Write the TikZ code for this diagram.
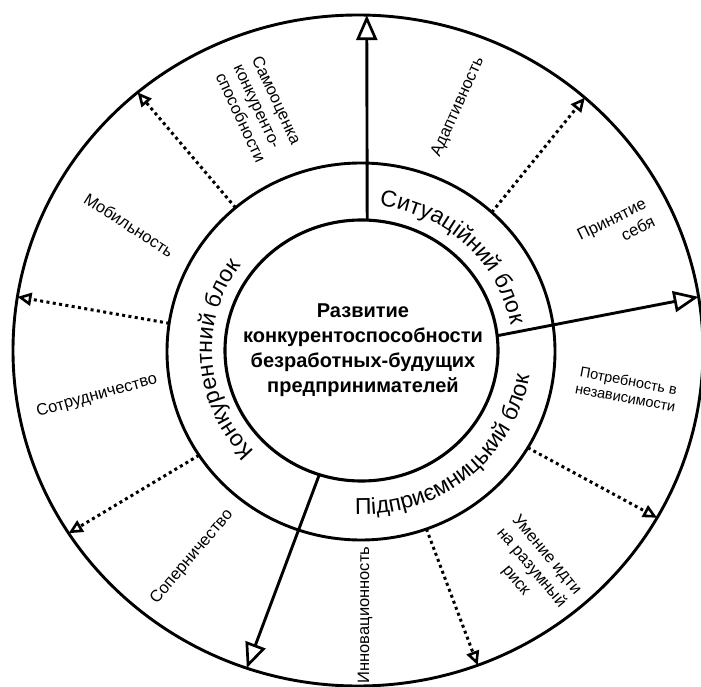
\documentclass[tikz,border=0pt]{standalone}
\usepackage{fontspec}
\setmainfont{Liberation Sans}
\usetikzlibrary{arrows.meta,decorations.text,calc}
\newcommand\ringfnt{\fontsize{23}{23}\selectfont}
\begin{document}
\begin{tikzpicture}[x=1pt,y=1pt,
  ringline/.style={line width=2.9pt},
  bigarrow/.style={line width=2.9pt,-{Triangle[open,length=25pt,width=21pt,line width=2.7pt]}},
  dotarrow/.style={line width=3pt,dash pattern=on 3pt off 3.4pt,-{Triangle[open,length=14pt,width=13pt,line width=2.6pt]}},
  lbl/.style={font=\fontsize{16.5}{20}\selectfont, inner sep=0pt},
  smalllbl/.style={font=\fontsize{14.5}{17}\selectfont, inner sep=0pt},
  titletext/.style={font=\bfseries\fontsize{20}{25}\selectfont, align=center, inner sep=0pt}
]
\useasboundingbox (0,0) rectangle (701,686);
\clip (0,0) rectangle (701,686);
\fill[white] (0,0) rectangle (701,686);

\coordinate (Cin) at (361.5,335.5);
\coordinate (Cmid) at (361,334.5);
\coordinate (Cout) at (358,335.5);

% circles
\draw[ringline] (Cout) ellipse [x radius=345pt, y radius=335.5pt];
\draw[ringline] (Cmid) ellipse [x radius=194pt, y radius=188.5pt];
\draw[line width=3.1pt] (Cin) ellipse [x radius=136.5pt, y radius=130.5pt];

% centre text
\node[titletext] (title) at (363,335.5) {Развитие\\конкурентоспособности\\безработных-будущих\\предпринимателей};

% ring texts
\path[decorate,decoration={text along path, text align=center,
  text={|\ringfnt|Ситуаційний блок}}]
  ([shift={(120:151.5pt and 145.5pt)}]Cin) arc[start angle=120, end angle=-28, x radius=151.5pt, y radius=145.5pt];
\path[decorate,decoration={text along path, text align=center,
  text={|\ringfnt|Конкурентний блок}}]
  ([shift={(262:149.5pt and 143.5pt)}]Cin) arc[start angle=262, end angle=106, x radius=149.5pt, y radius=143.5pt];
\path[decorate,decoration={text along path, text align=center,
  text={|\ringfnt|Підприємницький блок}}]
  ([shift={(-130:170pt and 164pt)}]Cin) arc[start angle=-130, end angle=30, x radius=170pt, y radius=164pt];

% solid arrows
\coordinate (s1) at ([shift={(87.6:136.5pt and 130.5pt)}]Cin);
\coordinate (e1) at ([shift={(88.55:345pt and 335.5pt)}]Cout);
\coordinate (s2) at ([shift={(6.5:136.5pt and 130.5pt)}]Cin);
\coordinate (e2) at ([shift={(9.2:345pt and 335.5pt)}]Cout);
\coordinate (s3) at ([shift={(-108:136.5pt and 130.5pt)}]Cin);
\coordinate (e3) at ([shift={(-108.8:345pt and 335.5pt)}]Cout);
\draw[bigarrow] (s1) -- (e1);
\draw[bigarrow] (s2) -- (e2);
\draw[bigarrow] (s3) -- (e3);

% dotted arrows
\coordinate (d1s) at ([shift={(130.3:194pt and 188.5pt)}]Cmid);
\coordinate (d1e) at ([shift={(129.7:345pt and 335.5pt)}]Cout);
\coordinate (d2s) at ([shift={(171.4:194pt and 188.5pt)}]Cmid);
\coordinate (d2e) at ([shift={(170.8:345pt and 335.5pt)}]Cout);
\coordinate (d3s) at ([shift={(-146.6:194pt and 188.5pt)}]Cmid);
\coordinate (d3e) at ([shift={(-147:345pt and 335.5pt)}]Cout);
\coordinate (d4s) at ([shift={(47.6:194pt and 188.5pt)}]Cmid);
\coordinate (d4e) at ([shift={(48.9:345pt and 335.5pt)}]Cout);
\coordinate (d5s) at ([shift={(-30.7:194pt and 188.5pt)}]Cmid);
\coordinate (d5e) at ([shift={(-29.9:345pt and 335.5pt)}]Cout);
\coordinate (d6s) at ([shift={(-70.3:194pt and 188.5pt)}]Cmid);
\coordinate (d6e) at ([shift={(-69.7:345pt and 335.5pt)}]Cout);
\foreach \k in {1,...,6}{\draw[dotarrow] (d\k s) -- (d\k e);}

% outer labels
\node[lbl, rotate=-65, align=left] (samo) at (259,577) {Самооценка\\конкуренто-\\способности};
\node[lbl, rotate=65.6] (adapt) at (458,579) {Адаптивность};
\node[lbl, rotate=26, align=right] (prin) at (616,458) {Принятие\\себя};
\node[smalllbl, rotate=-10.6, align=center] (potr) at (627,297) {Потребность в\\независимости};
\node[lbl, rotate=-50, align=center] (umen) at (531,118) {Умение идти\\на разумный\\риск};
\node[lbl, rotate=90] (innov) at (365,71) {Инновационность};
\node[lbl, rotate=49.6] (soper) at (192,129) {Соперничество};
\node[lbl, rotate=15.6] (sotr) at (97,290) {Сотрудничество};
\node[lbl, rotate=-32.7] (mob) at (129,461) {Мобильность};
\end{tikzpicture}
\end{document}
